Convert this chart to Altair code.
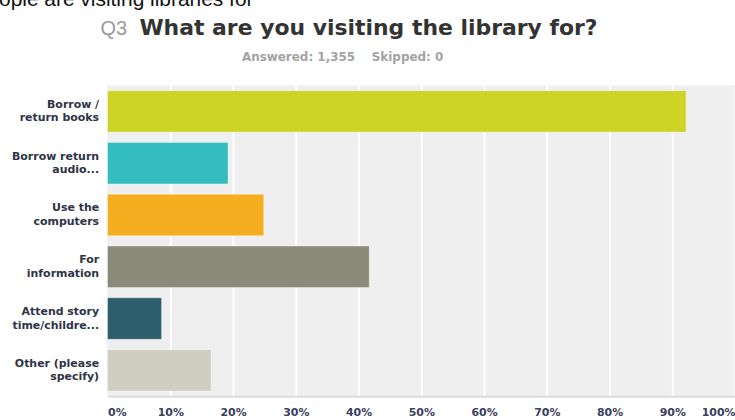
import altair as alt
import pandas as pd

categories = [
    "Borrow /|return books",
    "Borrow return|audio...",
    "Use the|computers",
    "For|information",
    "Attend story|time/childre...",
    "Other (please|specify)",
]
values = [92.2, 19.2, 24.9, 41.7, 8.6, 16.5]
colors = ["#CDD426", "#33BDBF", "#F6AE21", "#898A79", "#2D5E6B", "#CFCEC0"]
x_ticks = [0, 10, 20, 30, 40, 50, 60, 70, 80, 90, 100]

df = pd.DataFrame({"answer": categories, "pct": values})

FONT = "Liberation Sans"
WIDE = "DejaVu Sans"

bars = alt.Chart(df).mark_bar(
    stroke="#ffffff", strokeWidth=1, strokeOpacity=0.35
).encode(
    x=alt.X(
        "pct:Q",
        scale=alt.Scale(domain=[0, 100], nice=False),
        axis=alt.Axis(
            values=x_ticks,
            labelExpr="datum.value + '%'",
            title=None,
            grid=True,
            gridColor="#ffffff",
            gridWidth=2,
            ticks=False,
            domain=True,
            domainColor="#dcdcdc",
            domainWidth=2,
            labelFont=WIDE,
            labelFontSize=11,
            labelFontWeight="bold",
            labelColor="#3a4060",
            labelPadding=10,
            labelFlush=True,
        ),
    ),
    y=alt.Y(
        "answer:N",
        sort=categories,
        scale=alt.Scale(paddingInner=0.2, paddingOuter=0.1),
        axis=alt.Axis(
            title=None,
            ticks=False,
            domain=True,
            domainColor="#e4e4e4",
            domainWidth=1,
            labelExpr="split(datum.label, '|')",
            labelFont=WIDE,
            labelFontSize=11,
            labelFontWeight="bold",
            labelColor="#2e3347",
            labelLineHeight=13.5,
            labelOffset=-6.5,
            labelPadding=9,
            labelLimit=200,
        ),
    ),
    color=alt.Color(
        "answer:N",
        scale=alt.Scale(domain=categories, range=colors),
        legend=None,
    ),
)

head = pd.DataFrame({"t": ["ople are visiting libraries for"]})
top_text = alt.Chart(head).mark_text(
    font=FONT, fontSize=21, color="#111111", align="left", baseline="alphabetic"
).encode(text="t:N", x=alt.value(-109), y=alt.value(-80))

q3 = alt.Chart(pd.DataFrame({"t": ["Q3"]})).mark_text(
    font=FONT, fontSize=20, color="#9a9a9a", align="left", baseline="alphabetic"
).encode(text="t:N", x=alt.value(-7), y=alt.value(-51))

title = alt.Chart(pd.DataFrame({"t": ["What are you visiting the library for?"]})).mark_text(
    font=WIDE, fontSize=22, fontWeight="bold", color="#333333", align="left", baseline="alphabetic"
).encode(text="t:N", x=alt.value(32), y=alt.value(-51))

sub = alt.Chart(pd.DataFrame({"t": ["Answered: 1,355\u00a0\u00a0\u00a0\u00a0Skipped: 0"]})).mark_text(
    font=WIDE, fontSize=12, fontWeight="bold", color="#a3a3a3", align="center", baseline="alphabetic"
).encode(text="t:N", x=alt.value(236), y=alt.value(-25))

chart = alt.layer(bars, top_text, q3, title, sub).properties(
    width=630,
    height=312,
    autosize=alt.AutoSizeParams(type="none"),
    padding={"left": 108, "top": 85, "right": 0, "bottom": 23},
    background="#ffffff",
).configure_view(
    fill="#efefef", stroke=None
)

chart.save("out.html", embed_options={"renderer": "svg", "actions": False})
